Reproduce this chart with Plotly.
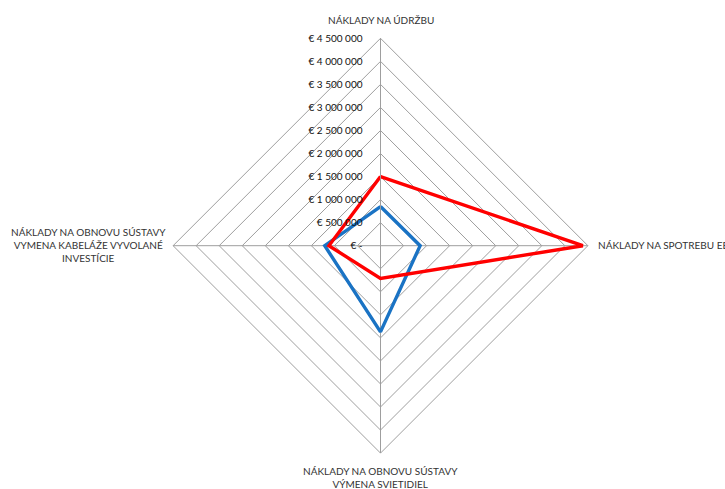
import plotly.graph_objects as go

# Cost categories (clockwise from the top)
categories = [
    "NÁKLADY NA ÚDRŽBU",
    "NÁKLADY NA SPOTREBU EE",
    "NÁKLADY NA OBNOVU SÚSTAVY<br>VÝMENA SVIETIDIEL",
    "NÁKLADY NA OBNOVU SÚSTAVY<br>VYMENA KABELÁŽE VYVOLANÉ<br>INVESTÍCIE",
]
blue_values = [850000, 860000, 1870000, 1210000]
red_values = [1500000, 4390000, 710000, 1120000]

tick_values = [0, 500000, 1000000, 1500000, 2000000, 2500000, 3000000, 3500000, 4000000, 4500000]
tick_labels = ["€ -", "€ 500 000", "€ 1 000 000", "€ 1 500 000", "€ 2 000 000",
               "€ 2 500 000", "€ 3 000 000", "€ 3 500 000", "€ 4 000 000", "€ 4 500 000"]

W, H = 725, 489
cx, cy, R = 380.5, 245.7, 207.4  # polar centre and radius in pixels

fig = go.Figure()
fig.add_trace(go.Scatterpolar(
    r=blue_values + blue_values[:1], theta=categories + categories[:1],
    mode="lines", line=dict(color="#1a73c4", width=3.4), showlegend=False))
fig.add_trace(go.Scatterpolar(
    r=red_values + red_values[:1], theta=categories + categories[:1],
    mode="lines", line=dict(color="#ff0000", width=3.4), showlegend=False))

font = dict(family="Lato, Open Sans, sans-serif", size=10, color="#333333")

fig.update_layout(
    width=W, height=H,
    margin=dict(l=0, r=0, t=0, b=0),
    paper_bgcolor="white",
    polar=dict(
        domain=dict(x=[(cx - R) / W, (cx + R) / W], y=[(H - cy - R) / H, (H - cy + R) / H]),
        bgcolor="white",
        gridshape="linear",
        angularaxis=dict(rotation=90, direction="clockwise", showticklabels=False,
                         ticks="", linecolor="#9e9e9e", linewidth=1,
                         gridcolor="#9e9e9e", gridwidth=1),
        radialaxis=dict(range=[0, 4500000], angle=90, tickangle=90,
                        tickvals=tick_values, ticktext=tick_labels,
                        tickfont=dict(family="Lato, Open Sans, sans-serif", size=10, color="#111111"),
                        ticks="outside", ticklen=14, tickcolor="rgba(0,0,0,0)",
                        showline=True, linecolor="#9e9e9e", linewidth=1,
                        gridcolor="#9e9e9e", gridwidth=1, side="counterclockwise"),
    ),
)

# Category labels placed around the outer ring
label_pos = [
    (381, 20, "center"),
    (596, 245, "left"),
    (380, 477, "center"),
    (88, 245, "center"),
]
for text, (x, y, anchor) in zip(categories, label_pos):
    fig.add_annotation(x=x / W, y=1 - y / H, xref="paper", yref="paper",
                       text=text, showarrow=False, font=font, align="center",
                       xanchor=anchor, yanchor="middle")

fig.write_html("out.html")
